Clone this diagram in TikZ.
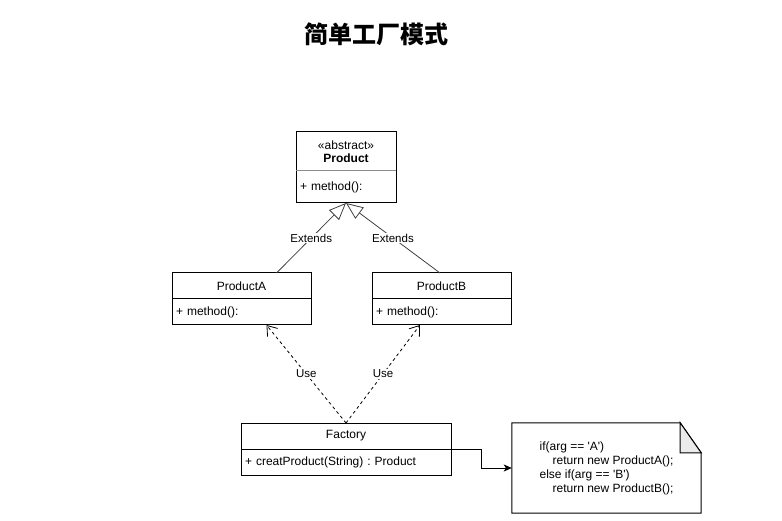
\documentclass[tikz,border=0pt]{standalone}
\usepackage{fontspec}
\setmainfont{Liberation Sans}
\newfontfamily\cjk{Noto Sans CJK SC}
\usetikzlibrary{arrows.meta,positioning}
\frenchspacing

\begin{document}
\begin{tikzpicture}[x=1pt,y=-1pt,font=\fontsize{12}{14}\selectfont,
  classhead/.style={draw,line width=1pt,outer sep=0pt,inner sep=0pt,minimum height=26pt},
  classbody/.style={draw,line width=1pt,outer sep=0pt,inner xsep=4pt,inner ysep=0pt,minimum height=26pt,align=left},
  edgelabel/.style={fill=white,font=\fontsize{11.5}{13}\selectfont,inner sep=1pt},
  extends/.style={draw=black!75,line width=.8pt,-{Triangle[open,length=17pt,width=14pt,fill=white]}},
  uses/.style={line width=.8pt,dashed,-{Straight Barb[length=9pt,width=13pt]}}]
\useasboundingbox (0,0) rectangle (782,521);
\node[font=\cjk\bfseries\fontsize{24}{28}\selectfont] (title) at (376,34) {简单工厂模式};
% classes
\node[classhead,minimum width=100pt,minimum height=39pt,align=center,font=\fontsize{12}{13}\selectfont] (product-head) at (346,151.5) {«abstract»\\\textbf{Product}};
\node[classbody,draw=black,text width=92pt,minimum height=32pt,below=0pt of product-head] (product-body) {+ method():};
\draw[black!45,line width=1pt] (product-head.south west) -- (product-head.south east);
\node[classhead,minimum width=139pt] (producta-head) at (241.5,286) {ProductA};
\node[classbody,text width=131pt,below=0pt of producta-head] (producta-body) {+ method():};
\node[classhead,minimum width=139pt] (productb-head) at (441.5,286) {ProductB};
\node[classbody,text width=131pt,below=0pt of productb-head] (productb-body) {+ method():};
\node[classhead,minimum width=210pt] (factory-head) at (346,436) {Factory};
\node[classbody,text width=202pt,below=0pt of factory-head] (factory-body) {+ creatProduct(String) : Product};
% note
\node[minimum width=189pt,minimum height=90pt,align=left,inner sep=0pt,font=\fontsize{12}{14}\selectfont] (note) at (606.5,468)
  {if(arg == \textquotesingle A\textquotesingle)\\\hspace*{13pt}return new ProductA();\\else if(arg == \textquotesingle B\textquotesingle)\\\hspace*{13pt}return new ProductB();};
\draw[line width=1pt] (note.north west) -- ([xshift=-21pt]note.north east) -- ([yshift=-30pt]note.north east) -- (note.south east) -- (note.south west) -- cycle;
\draw[line width=1pt,fill=black!8] ([xshift=-21pt]note.north east) -- ([yshift=-30pt]note.north east) -- ([xshift=-21pt,yshift=-30pt]note.north east) -- cycle;
% connectors
\draw[extends] ([xshift=35pt]producta-head.north) -- (product-body.south) node[midway,edgelabel]{Extends};
\draw[extends] ([xshift=-1.5pt]productb-head.north) -- (product-body.south) node[midway,edgelabel]{Extends};
\draw[uses] (factory-head.north) -- ([xshift=25pt]producta-body.south) node[midway,edgelabel]{Use};
\draw[uses] (factory-head.north) -- ([xshift=-21.5pt]productb-body.south) node[midway,edgelabel]{Use};
\draw[line width=1pt,-{Stealth[length=8pt,width=7pt,inset=2pt]}] (factory-body.north east) -- ++(30,0) |- (note.west);
\end{tikzpicture}
\end{document}
